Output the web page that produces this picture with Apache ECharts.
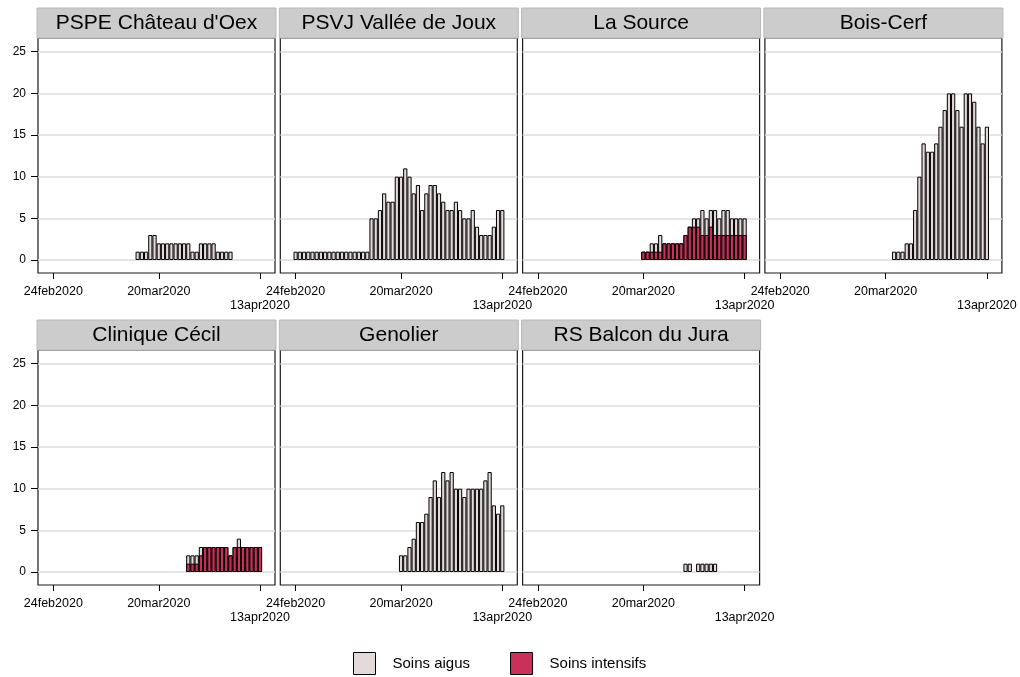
<!DOCTYPE html>
<html><head><meta charset="utf-8">
<script src="https://cdn.jsdelivr.net/npm/echarts@6/dist/echarts.min.js"></script>
<style>html,body{margin:0;padding:0;background:#fff}#c{width:1020px;height:677px}</style>
</head><body><div id="c"></div>
<script>
// Days are counted from 24feb2020 (day 0)
const tickDays = [0, 25, 49];
const tickLabels = ['24feb2020', '20mar2020', '13apr2020'];
const yTicks = [0, 5, 10, 15, 20, 25];
const hospitals = ["PSPE Château d'Oex", 'PSVJ Vallée de Joux', 'La Source', 'Bois-Cerf', 'Clinique Cécil', 'Genolier', 'RS Balcon du Jura'];
const firstDay = [20, 0, 25, 27, 32, 25, 35];

const aigusPSPE = [1,1,1,3,3,2,2,2,2,2,2,2,2,1,1,2,2,2,2,1,1,1,1];
const intensifsPSPE = [];
const aigusPSVJ = [1,1,1,1,1,1,1,1,1,1,1,1,1,1,1,1,1,1,5,5,6,8,7,7,10,10,11,10,8,9,6,8,9,9,8,7,6,6,7,6,5,5,6,4,3,3,3,4,6,6];
const intensifsPSVJ = [];
const aigusSource = [0,0,1,1,2,0,0,0,0,0,0,0,1,1,3,2,2,3,2,3,3,2,2,2,2];
const intensifsSource = [1,1,1,1,1,2,2,2,2,2,3,4,4,4,3,3,4,3,3,3,3,3,3,3,3];
const aigusBoisCerf = [1,1,1,2,2,6,10,14,13,13,14,16,18,20,20,18,16,20,20,19,16,14,16];
const intensifsBoisCerf = [];
const aigusCecil = [1,1,1,1,0,0,0,0,0,0,0,0,1,0,0,0,0,0];
const intensifsCecil = [1,1,1,2,3,3,3,3,3,3,2,3,3,3,3,3,3,3];
const aigusGenolier = [2,2,3,4,6,6,7,9,11,9,12,11,12,10,10,9,10,10,10,10,11,12,8,7,8];
const intensifsGenolier = [];
const aigusBalcon = [1,1,0,1,1,1,1,1];
const intensifsBalcon = [];

const aigusAll = [aigusPSPE, aigusPSVJ, aigusSource, aigusBoisCerf, aigusCecil, aigusGenolier, aigusBalcon];
const intensifsAll = [intensifsPSPE, intensifsPSVJ, intensifsSource, intensifsBoisCerf, intensifsCecil, intensifsGenolier, intensifsBalcon];

const FONT = 'Liberation Sans, Arial, sans-serif';
const xMin = -3.63, xMax = 52.56;
const yMin = -1.56, yMax = 26.65;
const gW = 237, gH = 235;
const colX = c => 38 + c * 242.3;
const rowY = r => 38 + r * 312;
const barW = gW / (xMax - xMin);
const cAigus = '#e3d9d9', cInt = '#c9305a';

const grids = [], xAxes = [], yAxes = [], series = [], graphics = [];
hospitals.forEach((name, i) => {
  const col = i % 4, row = Math.floor(i / 4);
  const left = colX(col), top = rowY(row);
  grids.push({left: left, top: top, width: gW, height: gH, show: true, borderColor: '#1a1a1a', borderWidth: 1.2, backgroundColor: '#fff', containLabel: false});
  xAxes.push({
    type: 'value', gridIndex: i, min: xMin, max: xMax, position: 'bottom',
    axisLine: {show: false, onZero: false},
    splitLine: {show: false},
    axisTick: {show: true, customValues: tickDays, length: 6, lineStyle: {color: '#000', width: 1}},
    axisLabel: {show: true, customValues: tickDays, margin: 12, fontSize: 12.5, fontFamily: FONT, color: '#000', lineHeight: 14,
      formatter: v => { const k = tickDays.indexOf(v); return k === 2 ? '\n' + tickLabels[k] : tickLabels[k]; }}
  });
  yAxes.push({
    type: 'value', gridIndex: i, min: yMin, max: yMax, position: 'left',
    axisLine: {show: false, onZero: false},
    axisTick: {show: col === 0, customValues: yTicks, length: 7, lineStyle: {color: '#000', width: 1}},
    axisLabel: {show: col === 0, customValues: yTicks, margin: 12, fontSize: 12, fontFamily: FONT, color: '#000'},
    splitLine: {show: true, lineStyle: {color: '#dcdcdc', width: 1.5}}
  });
  const start = firstDay[i];
  const ag = aigusAll[i], it = intensifsAll[i];
  const n = Math.max(ag.length, it.length);
  const dTot = [], dInt = [];
  for (let k = 0; k < n; k++) {
    const a = ag[k] || 0, b = it[k] || 0;
    dTot.push([start + k, a + b > 0 ? a + b : null]);
    dInt.push([start + k, b > 0 ? b : null]);
  }
  // Soins aigus stacked on top of Soins intensifs: the full bar is drawn first, the intensive part over its base.
  series.push({type: 'bar', name: 'Soins aigus', xAxisIndex: i, yAxisIndex: i, barWidth: barW, barGap: '-100%', data: dTot,
    itemStyle: {color: cAigus, borderColor: '#000', borderWidth: 1}, silent: true});
  series.push({type: 'bar', name: 'Soins intensifs', xAxisIndex: i, yAxisIndex: i, barWidth: barW, barGap: '-100%', data: dInt,
    itemStyle: {color: cInt, borderColor: '#000', borderWidth: 1}, silent: true});
  graphics.push({type: 'rect', shape: {x: left - 1, y: top - 30, width: gW + 2, height: 30},
    style: {fill: '#cccccc', stroke: '#b8b8b8', lineWidth: 1}, silent: true});
  graphics.push({type: 'text', x: left + gW / 2, y: top - 15,
    style: {text: name, textAlign: 'center', textVerticalAlign: 'middle', font: '21px ' + FONT, fill: '#000'}, silent: true});
});

const chart = echarts.init(document.getElementById('c'), null, {renderer: 'canvas'});
chart.setOption({
  animation: false,
  backgroundColor: '#fff',
  grid: grids, xAxis: xAxes, yAxis: yAxes, series: series,
  graphic: graphics,
  legend: {
    data: ['Soins aigus', 'Soins intensifs'], left: 353, top: 652, orient: 'horizontal', padding: 0,
    icon: 'rect', itemWidth: 22, itemHeight: 22, itemGap: 40, selectedMode: false,
    itemStyle: {borderColor: '#000', borderWidth: 1},
    textStyle: {fontSize: 15, fontFamily: FONT, color: '#000', padding: [0, 0, 0, 12]}
  }
});
</script></body></html>
